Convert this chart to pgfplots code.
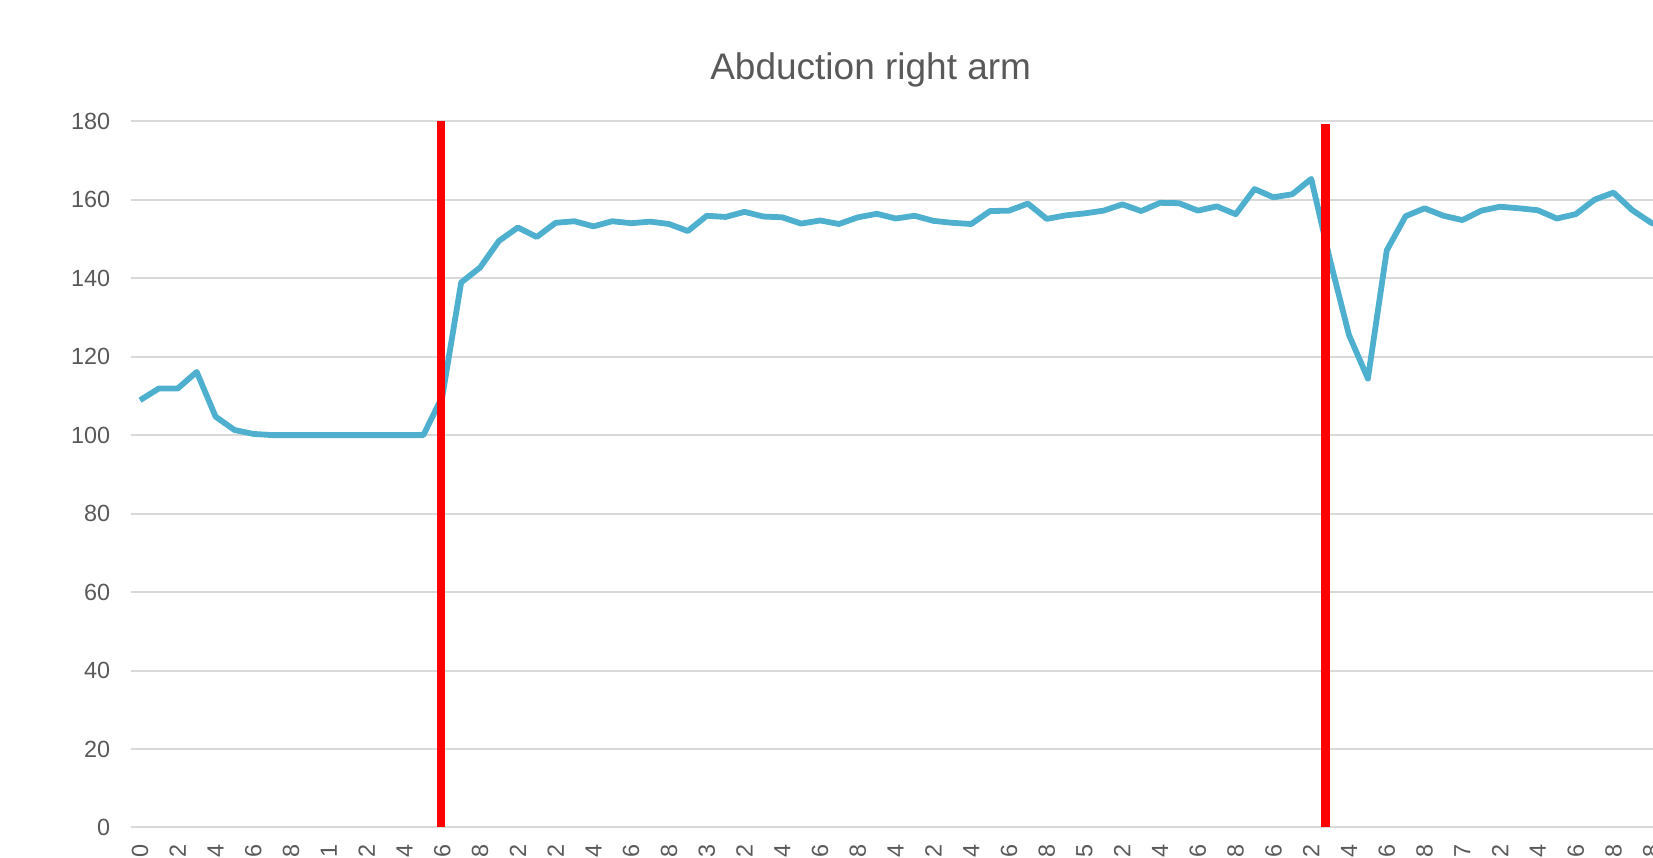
\documentclass[border=0pt]{standalone}
\usepackage{fontspec}
\setmainfont{Liberation Sans}
\usepackage{pgfplots}
\pgfplotsset{compat=1.18}
\definecolor{linecol}{HTML}{4EB0CE}
\definecolor{txtgray}{HTML}{595959}
\definecolor{gridgray}{HTML}{D9D9D9}
\begin{document}
\begin{tikzpicture}
\useasboundingbox (-65.3bp,-15.25bp) rectangle (761.2bp,413.75bp);
\clip (-65.3bp,-15.25bp) rectangle (761.2bp,413.75bp);
\begin{axis}[
  at={(0,0)}, anchor=south west,
  x=9.445bp, y=1.96194bp,
  xmin=-0.5, xmax=83.5, ymin=0, ymax=180,
  axis line style={draw=none},
  every outer x axis line/.append style={draw=none},
  every outer y axis line/.append style={draw=none},
  clip=false,
  ymajorgrids,
  grid style={color=gridgray, line width=1bp},
  major tick length=0pt,
  ytick={0,20,...,180},
  xtick={0,2,...,80},
  xticklabels={0,0.2,0.4,0.6,0.8,1,1.2,1.4,1.6,1.8,2,2.2,2.4,2.6,2.8,3,3.2,3.4,3.6,3.8,4,4.2,4.4,4.6,4.8,5,5.2,5.4,5.6,5.8,6,6.2,6.4,6.6,6.8,7,7.2,7.4,7.6,7.8,8},
  xticklabel pos=lower,
  yticklabel pos=left,
  /pgf/number format/assume math mode=true,
  tick label style={font=\fontsize{11.7bp}{14bp}\selectfont, text=txtgray, inner sep=0pt},
  yticklabel style={anchor=east},
  yticklabel shift=10bp,
  xticklabel style={rotate=90, anchor=east},
  xticklabel shift=8.25bp,
]
\addplot[linecol, line width=2.9bp, line join=round] coordinates {
(0,108.9) (1,111.9) (2,111.9) (3,116.1) (4,104.7) (5,101.3) (6,100.3) (7,100.0)
(8,100) (9,100) (10,100) (11,100) (12,100) (13,100) (14,100) (15,100)
(16,109.8) (17,138.9) (18,142.7) (19,149.5) (20,152.9) (21,150.5) (22,154.1) (23,154.5)
(24,153.2) (25,154.5) (26,154.0) (27,154.4) (28,153.8) (29,152.0) (30,155.9) (31,155.6)
(32,156.9) (33,155.7) (34,155.5) (35,153.9) (36,154.7) (37,153.8) (38,155.5) (39,156.4)
(40,155.2) (41,155.9) (42,154.6) (43,154.1) (44,153.8) (45,157.1) (46,157.2) (47,159.0)
(48,155.1) (49,156.0) (50,156.5) (51,157.2) (52,158.8) (53,157.1) (54,159.2) (55,159.1)
(56,157.2) (57,158.3) (58,156.3) (59,162.7) (60,160.6) (61,161.4) (62,165.3) (63,144.5)
(64,125.5) (65,114.4) (66,147.1) (67,155.8) (68,157.8) (69,155.9) (70,154.8) (71,157.2)
(72,158.2) (73,157.8) (74,157.3) (75,155.2) (76,156.3) (77,160.0) (78,161.8) (79,157.3)
(80,154.1) (81,152.5)
};
\addplot[red, line width=4.1bp] coordinates {(15.92,0) (15.92,180)};
\addplot[red, line width=4.1bp] coordinates {(62.75,0) (62.75,179.2)};
\node[anchor=base, font=\fontsize{18.5bp}{22bp}\selectfont, text=txtgray] at (axis cs:38.68,190.7) {Abduction right arm};
\end{axis}
\end{tikzpicture}
\end{document}
